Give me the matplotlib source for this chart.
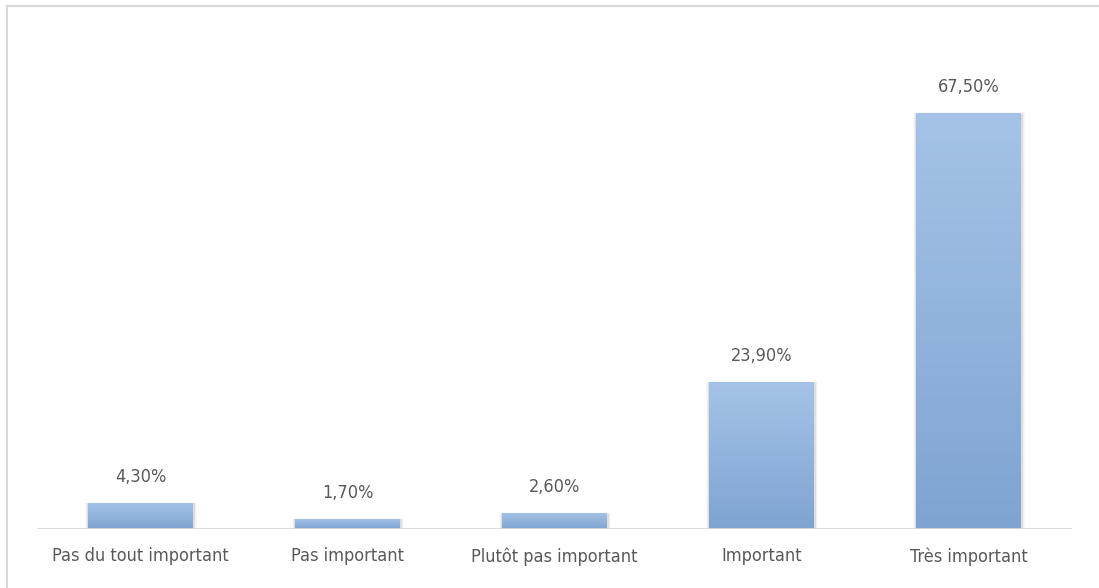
import numpy as np
import matplotlib.pyplot as plt
from matplotlib import font_manager
from matplotlib.colors import LinearSegmentedColormap
from matplotlib.lines import Line2D

categories = ["Pas du tout important", "Pas important", "Plutôt pas important",
              "Important", "Très important"]
values = [4.3, 1.7, 2.6, 23.9, 67.5]
value_labels = ["4,30%", "1,70%", "2,60%", "23,90%", "67,50%"]

# look for a narrow font, the original uses a condensed face
narrow = None
for f in font_manager.fontManager.ttflist:
    if ("Narrow" in f.name or "Condensed" in f.name or f.stretch in ("condensed", 600 - 100)) \
            and f.style == "normal" and f.weight in (300, 400, "normal", "light"):
        narrow = f
        break

if narrow is not None:
    font_manager.fontManager.addfont(narrow.fname)
    plt.rcParams['font.family'] = [narrow.name, 'DejaVu Sans']
    plt.rcParams['font.stretch'] = narrow.stretch
    fsize = 13
else:
    plt.rcParams['font.family'] = ['DejaVu Sans']
    fsize = 11.5
text_color = "#595959"

fig = plt.figure(figsize=(10.99, 5.88), dpi=100)
ax = fig.add_axes([37 / 1099, 59 / 588, 1035 / 1099, 493 / 588])

# outer chart border (only top and left visible)
fig.add_artist(Line2D([7 / 1099, 1], [1 - 6 / 588, 1 - 6 / 588], color="#d9d9d9", lw=1.5))
fig.add_artist(Line2D([7 / 1099, 7 / 1099], [0, 1 - 6 / 588], color="#d9d9d9", lw=1.5))

cmap = LinearSegmentedColormap.from_list("bluegrad", ["#7fa4d2", "#a5c3e7"])
grad = np.linspace(0, 1, 256).reshape(-1, 1)
width = 0.507
x = np.arange(len(categories))

for xi, v, lab in zip(x, values, value_labels):
    # soft shadow around the bar
    for k, a in enumerate([0.07, 0.04, 0.02]):
        off = 0.006 * (k + 1)
        ax.bar(xi + 0.003, v + 0.15 * (k + 1), width=width + 2 * off, bottom=-0.3,
               color="black", alpha=a, zorder=1, linewidth=0)
    bar = ax.bar(xi, v, width=width, color="none", linewidth=0, zorder=2)[0]
    im = ax.imshow(grad, cmap=cmap, aspect="auto", origin="lower",
                   extent=[xi - width / 2, xi + width / 2, 0, v], zorder=2)
    im.set_clip_path(bar)
    ax.annotate(lab, (xi, v), xytext=(0, 12), textcoords="offset points",
                ha="center", va="bottom", fontsize=fsize, color=text_color)

ax.set_xlim(-0.5, 4.5)
ax.set_ylim(0, 80)
ax.axhline(0, color="#d9d9d9", lw=2, zorder=3)
for s in ax.spines.values():
    s.set_visible(False)
ax.set_yticks([])
ax.set_xticks(x)
ax.set_xticklabels(categories, fontsize=fsize, color=text_color)
ax.tick_params(axis="x", length=0, pad=13)

fig.savefig("out.png", dpi=100)
